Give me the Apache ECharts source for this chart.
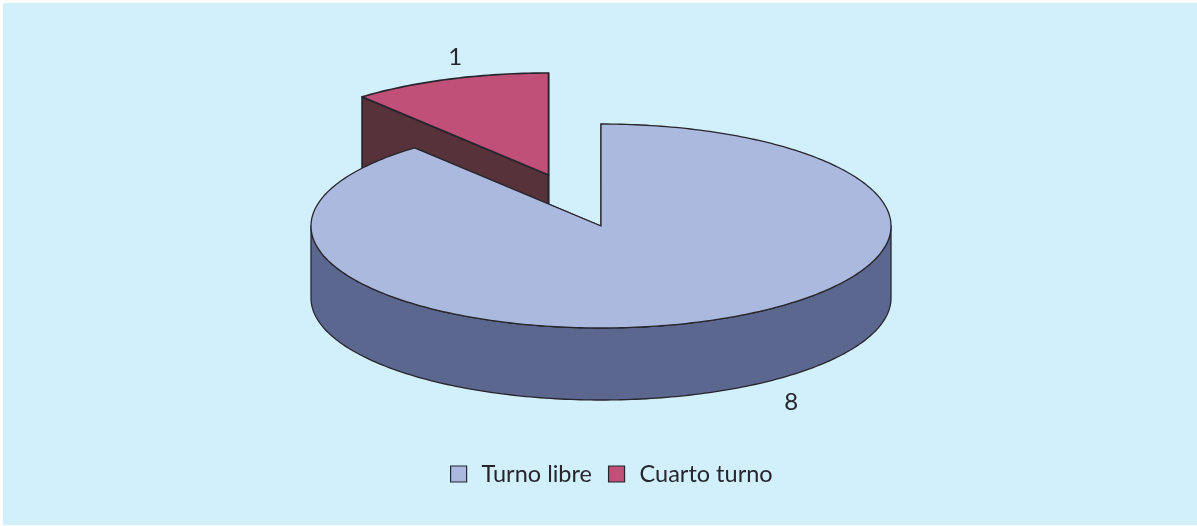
<!DOCTYPE html>
<html>
<head>
<meta charset="utf-8">
<style>
html, body { margin: 0; padding: 0; background: #fff; }
#chart-1 { position: absolute; left: 3px; top: 3px; width: 1194px; height: 522px; }
</style>
<script src="https://cdn.jsdelivr.net/npm/echarts@6/dist/echarts.min.js"></script>
</head>
<body>
<div id="chart-1"></div>
<script>
const categories = ['Turno libre', 'Cuarto turno'];
const values = [8, 1];
const topColors = ['#abb9df', '#c05078'];
const sideColors = ['#5c678f', '#58323a'];

// layout of the tilted pie, in canvas pixels
const CX = 598, CY = 223, RX = 290, RY = 102, DEPTH = 72;
const EXPLODE = [[0, 0], [-52.5, -51]];
const LABEL_OFFSET = [[91, 8], [6, -22]];
const LINE = '#27262c';

const total = values.reduce((a, b) => a + b, 0);

function rim(deg, dx, dy, down) {
    const a = deg * Math.PI / 180;
    return [CX + dx + RX * Math.sin(a), CY + dy - RY * Math.cos(a) + down];
}

function arc(from, to, dx, dy, down) {
    const pts = [];
    const n = Math.max(1, Math.ceil(Math.abs(to - from)));
    for (let i = 0; i <= n; i++) {
        pts.push(rim(from + (to - from) * i / n, dx, dy, down));
    }
    return pts;
}

function face(points, fill, width) {
    return {
        type: 'polygon',
        shape: { points: points },
        style: { fill: fill, stroke: LINE, lineWidth: width, lineJoin: 'round' }
    };
}

function renderSlice(idx) {
    return function (params, api) {
        const before = values.slice(0, idx).reduce((a, b) => a + b, 0);
        const start = before / total * 360;
        const end = start + api.value(0) / total * 360;
        const dx = EXPLODE[idx][0], dy = EXPLODE[idx][1];
        const width = idx === 1 ? 1.7 : 1.3;
        const centre = [CX + dx, CY + dy];
        const centreLow = [CX + dx, CY + dy + DEPTH];
        const children = [];

        // cut faces
        [start, end].forEach(function (deg) {
            children.push(face([centre, rim(deg, dx, dy, 0), rim(deg, dx, dy, DEPTH), centreLow], sideColors[idx], width));
        });

        // outer wall, only the front half shows
        const wallFrom = Math.max(start, 90), wallTo = Math.min(end, 270);
        if (wallTo > wallFrom) {
            children.push(face(arc(wallFrom, wallTo, dx, dy, 0).concat(arc(wallTo, wallFrom, dx, dy, DEPTH)), sideColors[idx], width));
        }

        // top
        children.push(face([centre].concat(arc(start, end, dx, dy, 0)), topColors[idx], width));

        // value label
        const mid = (start + end) / 2;
        const anchor = rim(mid, dx, dy, idx === 0 ? DEPTH : 0);
        children.push({
            type: 'text',
            style: {
                text: String(api.value(0)),
                x: anchor[0] + LABEL_OFFSET[idx][0],
                y: anchor[1] + LABEL_OFFSET[idx][1],
                fill: LINE,
                font: '24px Lato',
                align: 'center',
                verticalAlign: 'middle'
            }
        });
        return { type: 'group', children: children };
    };
}

const TheChart = echarts.init(document.getElementById('chart-1'));

TheChart.setOption({
    animation: false,
    backgroundColor: '#d2effc',
    legend: {
        data: categories,
        left: 442,
        top: 454,
        icon: 'rect',
        itemWidth: 16,
        itemHeight: 16,
        itemGap: 16,
        itemStyle: { borderColor: LINE, borderWidth: 1.2 },
        textStyle: { color: LINE, fontFamily: 'Lato', fontSize: 23.5, padding: [0, 0, 0, 10] }
    },
    series: categories.map(function (name, i) {
        return {
            type: 'custom',
            name: name,
            coordinateSystem: 'none',
            z: 2 - i,
            itemStyle: { color: topColors[i] },
            renderItem: renderSlice(i),
            data: [[values[i]]]
        };
    })
});
</script>
</body>
</html>
